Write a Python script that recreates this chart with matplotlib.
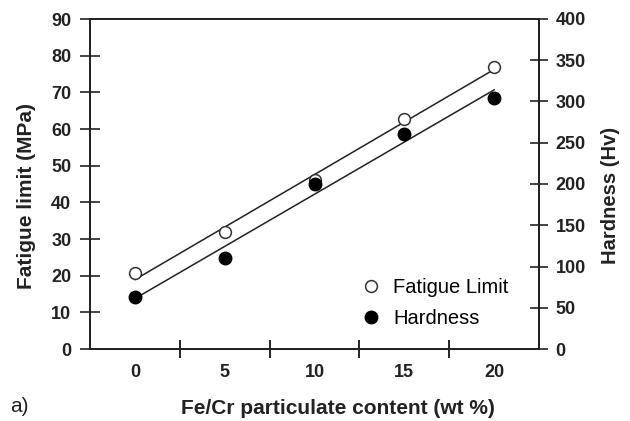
import numpy as np
import matplotlib
matplotlib.use("Agg")
import matplotlib.pyplot as plt
from matplotlib.lines import Line2D

plt.rcParams['font.family'] = ['Liberation Sans', 'DejaVu Sans']

content = [0, 5, 10, 15, 20]
fatigue = [20.6, 31.8, 46.0, 62.7, 76.8]
hardness = [62.7, 110.7, 200.0, 260.6, 304.0]
left_ticks = list(range(0, 91, 10))
right_ticks = list(range(0, 401, 50))

W, H = 630, 421
fig = plt.figure(figsize=(6.3, 4.21), dpi=100)
ax = fig.add_axes([90/W, 1-349/H, (539-90)/W, (349-19)/H])
ax2 = ax.twinx()

x = np.array(content, dtype=float)
pf = np.polyfit(x, fatigue, 1)
ph = np.polyfit(x, hardness, 1)
xl = np.array([0, 20.0])
ax.plot(xl, np.polyval(pf, xl), color='#222222', lw=1.1, zorder=2)
ax2.plot(xl, np.polyval(ph, xl), color='#222222', lw=1.1, zorder=2)
ax.plot(content, fatigue, 'o', ms=8.5, mfc='white', mec='#333333', mew=1.1, zorder=3)
ax2.plot(content, hardness, 'o', ms=9, mfc='black', mec='black', zorder=3)

ax.set_xlim(-2.5, 22.5)
ax.set_ylim(0, 90)
ax2.set_ylim(0, 400)
ax.set_xticks([2.5, 7.5, 12.5, 17.5])
ax.set_xticklabels([])
ax.tick_params(axis='x', direction='inout', length=13, width=1.2)
for v in content:
    ax.text(v, -6.4, str(v), ha='center', va='center', fontsize=13, fontweight='bold', color='#222222')

ax.set_yticks(left_ticks)
ax.tick_params(axis='y', direction='inout', length=15, width=1.2, labelsize=13, pad=6, colors='#222222')
for t in ax.get_yticklabels():
    t.set_fontweight('bold')
ax2.set_yticks(right_ticks)
ax2.tick_params(axis='y', direction='inout', length=13, width=1.2, labelsize=13, pad=5.5, colors='#222222')
for t in ax2.get_yticklabels():
    t.set_fontweight('bold')

for a in (ax, ax2):
    for s in a.spines.values():
        s.set_linewidth(1.4)
        s.set_color('#222222')

fig.text(27/W, 1-196/H, 'Fatigue limit (MPa)', rotation=90, ha='center', va='center',
         fontsize=15, fontweight='bold', color='#222222')
fig.text(611/W, 1-195/H, 'Hardness (Hv)', rotation=90, ha='center', va='center',
         fontsize=14.5, fontweight='bold', color='#222222')
fig.text(338/W, 1-408/H, 'Fe/Cr particulate content (wt %)', ha='center', va='center',
         fontsize=15, fontweight='bold', color='#222222')
fig.text(10/W, 1-406/H, 'a)', ha='left', va='center', fontsize=15, color='#222222')

h1 = Line2D([], [], ls='none', marker='o', ms=8.5, mfc='white', mec='#333333', mew=1.1)
h2 = Line2D([], [], ls='none', marker='o', ms=9, mfc='black', mec='black')
ax2.legend([h1, h2], ['Fatigue Limit', 'Hardness'], loc='lower left', frameon=False,
           fontsize=14.5, bbox_to_anchor=(0.586, 0.04), handlelength=1.0, handletextpad=0.6,
           labelspacing=0.6, borderaxespad=0)

fig.savefig('out.png', dpi=100)
